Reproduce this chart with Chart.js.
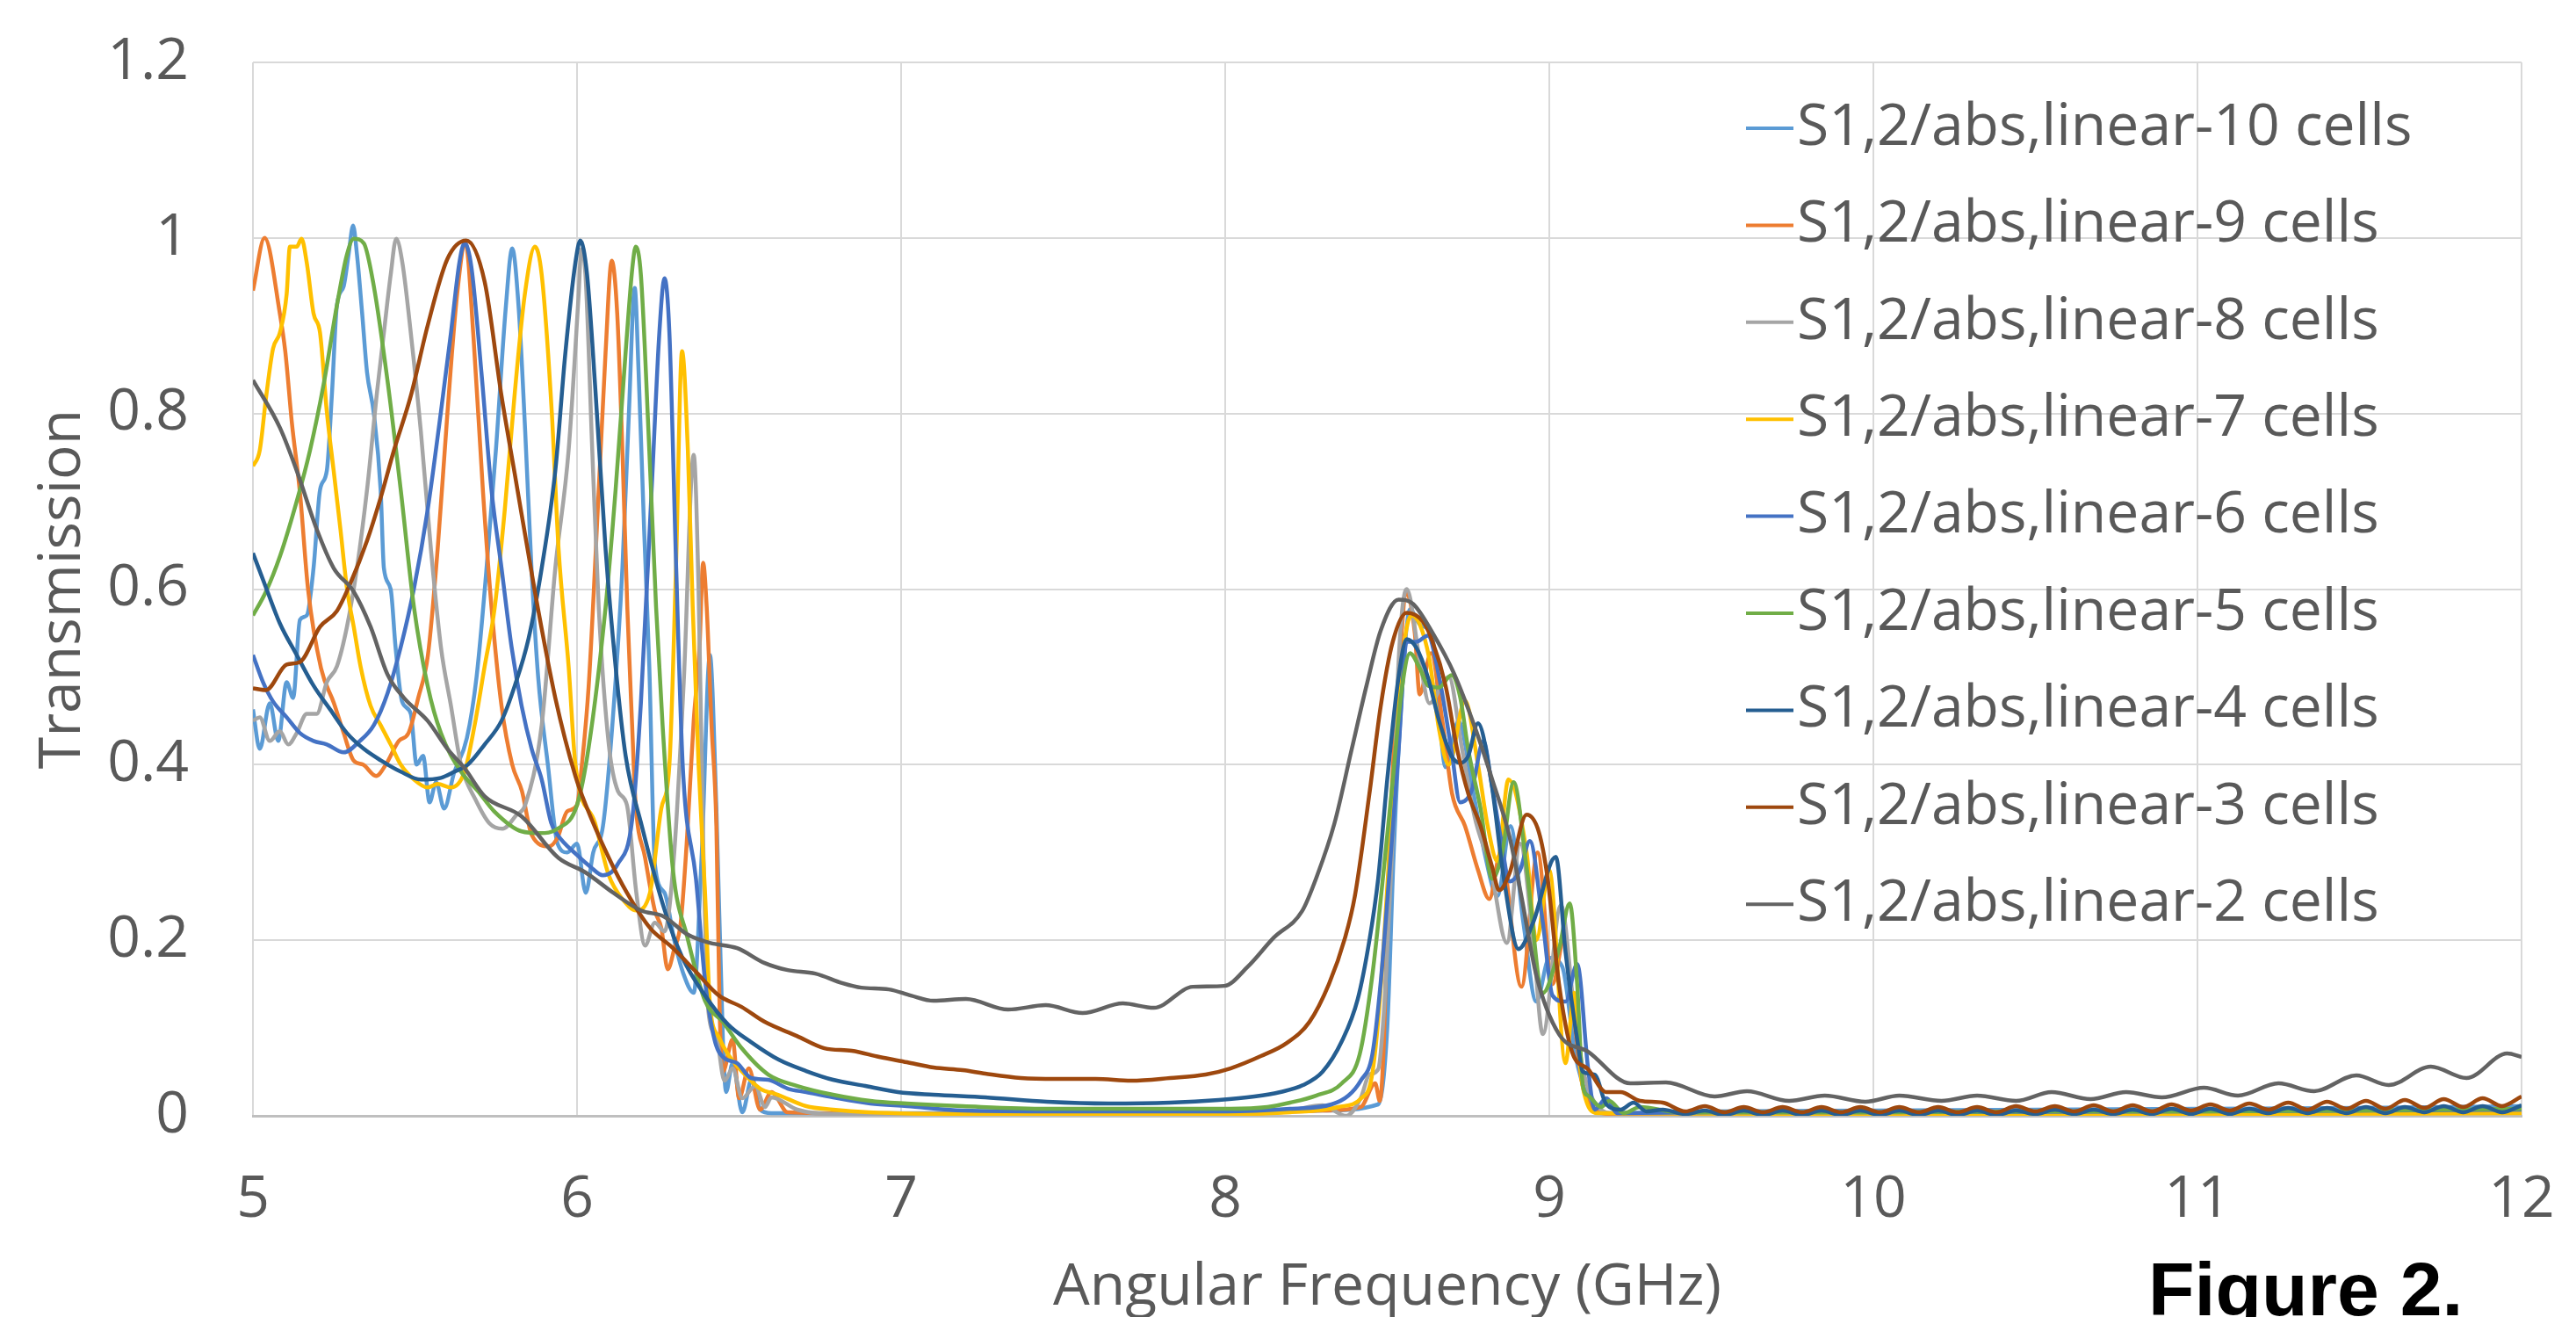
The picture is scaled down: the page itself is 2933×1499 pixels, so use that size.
<!DOCTYPE html>
<html>
<head>
<meta charset="utf-8">
<title>Transmission vs angular frequency</title>
<script src="https://cdn.jsdelivr.net/npm/chart.js@4.4.1/dist/chart.umd.min.js"></script>
<style>
  html, body { margin: 0; padding: 0; background: #ffffff; }
  canvas { display: block; }
</style>
</head>
<body>
<canvas id="chart" width="2933" height="1499"></canvas>
<script>
const seriesLabels = [
    'S1,2/abs,linear-10 cells',
    'S1,2/abs,linear-9 cells',
    'S1,2/abs,linear-8 cells',
    'S1,2/abs,linear-7 cells',
    'S1,2/abs,linear-6 cells',
    'S1,2/abs,linear-5 cells',
    'S1,2/abs,linear-4 cells',
    'S1,2/abs,linear-3 cells',
    'S1,2/abs,linear-2 cells'
];
const seriesColors = ['#5B9BD5', '#ED7D31', '#A5A5A5', '#FFC000', '#4472C4', '#70AD47', '#255E91', '#9E480E', '#636363'];

const xTicks = [5, 6, 7, 8, 9, 10, 11, 12];
const yTicks = [0, 0.2, 0.4, 0.6, 0.8, 1, 1.2];

// [frequency GHz, transmission]
const cells10 = [[5.0,.463],[5.021,.418],[5.052,.47],[5.078,.427],[5.104,.494],[5.124,.476],[5.145,.565],[5.166,.57],[5.187,.624],[5.207,.713],[5.228,.735],[5.244,.824],[5.259,.923],[5.28,.945],[5.295,.981],[5.309,1.014],[5.321,.981],[5.337,.914],[5.352,.847],[5.373,.80],[5.394,.713],[5.404,.624],[5.425,.60],[5.44,.534],[5.46,.472],[5.487,.458],[5.505,.40],[5.525,.41],[5.545,.357],[5.565,.38],[5.59,.35],[5.62,.39],[5.66,.43],[5.69,.50],[5.72,.62],[5.75,.76],[5.78,.92],[5.80,.988],[5.82,.92],[5.84,.78],[5.86,.62],[5.88,.50],[5.91,.40],[5.94,.31],[5.97,.30],[6.0,.31],[6.027,.254],[6.05,.30],[6.08,.33],[6.11,.45],[6.14,.624],[6.16,.80],[6.178,.943],[6.19,.847],[6.207,.668],[6.223,.512],[6.24,.287],[6.27,.254],[6.30,.20],[6.33,.16],[6.36,.14],[6.385,.30],[6.41,.525],[6.43,.35],[6.45,.087],[6.46,.027],[6.48,.06],[6.51,.004],[6.54,.043],[6.565,.007],[6.6,.003],[7.0,.003],[7.5,.003],[8.0,.003],[8.3,.006],[8.472,.013],[8.5,.1],[8.52,.3],[8.545,.48],[8.57,.577],[8.6,.56],[8.64,.543],[8.68,.397],[8.72,.45],[8.76,.38],[8.80,.30],[8.84,.25],[8.88,.33],[8.92,.22],[8.96,.13],[9.0,.18],[9.04,.17],[9.08,.07],[9.12,.02],[9.16,.003],[9.5,.005],[10.0,.006],[10.5,.007],[11.0,.008],[11.5,.009],[12.0,.011]];

const cells9 = [[5.0,.94],[5.036,1.0],[5.083,.914],[5.10,.87],[5.12,.79],[5.145,.71],[5.17,.60],[5.21,.51],[5.25,.47],[5.28,.436],[5.31,.405],[5.34,.40],[5.38,.387],[5.41,.40],[5.45,.427],[5.48,.436],[5.51,.476],[5.54,.525],[5.57,.646],[5.60,.80],[5.63,.936],[5.656,.994],[5.68,.89],[5.71,.71],[5.736,.58],[5.767,.467],[5.80,.40],[5.83,.37],[5.86,.32],[5.914,.307],[5.94,.317],[5.97,.347],[6.0,.354],[6.015,.40],[6.036,.49],[6.067,.713],[6.088,.869],[6.107,.974],[6.124,.914],[6.14,.758],[6.155,.58],[6.17,.445],[6.18,.36],[6.21,.294],[6.24,.234],[6.26,.214],[6.28,.167],[6.30,.19],[6.32,.22],[6.34,.32],[6.36,.45],[6.378,.534],[6.389,.63],[6.40,.58],[6.415,.445],[6.43,.33],[6.44,.12],[6.45,.05],[6.48,.087],[6.50,.02],[6.53,.054],[6.565,.007],[6.60,.027],[6.65,.004],[7.0,.002],[8.0,.002],[8.3,.006],[8.418,.01],[8.463,.037],[8.477,.017],[8.49,.087],[8.508,.32],[8.535,.50],[8.56,.595],[8.585,.55],[8.60,.48],[8.635,.527],[8.67,.45],[8.70,.367],[8.74,.33],[8.78,.28],[8.815,.247],[8.85,.30],[8.914,.147],[8.964,.30],[9.01,.15],[9.045,.20],[9.08,.10],[9.10,.04],[9.13,.01],[9.2,.002],[10.0,.003],[11.0,.004],[12.0,.006]];

const cells8 = [[5.0,.45],[5.021,.454],[5.052,.427],[5.083,.438],[5.109,.423],[5.135,.436],[5.166,.458],[5.197,.458],[5.228,.494],[5.259,.512],[5.29,.557],[5.321,.624],[5.352,.713],[5.383,.825],[5.404,.892],[5.425,.958],[5.442,.999],[5.461,.972],[5.487,.892],[5.518,.78],[5.549,.646],[5.58,.534],[5.611,.467],[5.642,.40],[5.687,.36],[5.73,.333],[5.77,.327],[5.814,.343],[5.84,.354],[5.891,.445],[5.933,.624],[5.974,.758],[6.005,.936],[6.013,.987],[6.026,.958],[6.047,.758],[6.067,.579],[6.098,.423],[6.126,.37],[6.154,.354],[6.183,.254],[6.21,.194],[6.24,.22],[6.27,.21],[6.30,.30],[6.33,.50],[6.36,.753],[6.375,.60],[6.39,.30],[6.405,.12],[6.43,.09],[6.455,.04],[6.48,.054],[6.51,.02],[6.55,.034],[6.58,.01],[6.60,.021],[6.68,.007],[6.78,.002],[7.5,.001],[8.0,.002],[8.2,.006],[8.3,.012],[8.373,.0],[8.418,.02],[8.445,.047],[8.472,.053],[8.49,.12],[8.504,.22],[8.517,.32],[8.535,.517],[8.56,.60],[8.60,.52],[8.63,.47],[8.69,.50],[8.73,.42],[8.77,.34],[8.82,.28],[8.869,.197],[8.91,.31],[8.95,.20],[8.98,.093],[9.036,.24],[9.077,.12],[9.104,.053],[9.15,.01],[9.2,.003],[10.0,.002],[11.0,.003],[12.0,.004]];

const cells7 = [[5.0,.74],[5.021,.758],[5.041,.82],[5.062,.874],[5.083,.892],[5.104,.936],[5.114,.99],[5.135,.99],[5.15,.999],[5.166,.972],[5.187,.914],[5.207,.892],[5.228,.802],[5.249,.735],[5.27,.668],[5.29,.601],[5.311,.557],[5.332,.512],[5.363,.467],[5.394,.445],[5.425,.423],[5.456,.40],[5.497,.383],[5.539,.374],[5.57,.378],[5.611,.374],[5.653,.392],[5.684,.445],[5.715,.512],[5.746,.579],[5.777,.69],[5.808,.824],[5.839,.936],[5.87,.99],[5.891,.958],[5.922,.802],[5.943,.646],[5.974,.512],[5.995,.40],[6.055,.334],[6.098,.274],[6.14,.247],[6.183,.234],[6.225,.254],[6.26,.35],[6.285,.40],[6.305,.62],[6.324,.871],[6.342,.758],[6.357,.579],[6.375,.40],[6.395,.254],[6.41,.127],[6.437,.09],[6.466,.07],[6.51,.05],[6.565,.031],[6.62,.024],[6.707,.011],[6.79,.007],[6.9,.004],[7.2,.002],[8.0,.002],[8.2,.004],[8.35,.01],[8.42,.02],[8.45,.04],[8.47,.10],[8.49,.20],[8.52,.38],[8.55,.53],[8.575,.57],[8.60,.56],[8.63,.52],[8.66,.44],[8.69,.40],[8.74,.473],[8.78,.40],[8.81,.33],[8.84,.29],[8.874,.383],[8.93,.30],[8.96,.20],[9.0,.28],[9.05,.06],[9.077,.14],[9.10,.04],[9.15,.003],[10.0,.002],[11.0,.002],[12.0,.003]];

const cells6 = [[5.0,.525],[5.031,.494],[5.062,.472],[5.104,.454],[5.145,.436],[5.187,.427],[5.228,.423],[5.28,.414],[5.33,.427],[5.373,.445],[5.415,.481],[5.456,.534],[5.497,.601],[5.539,.69],[5.58,.802],[5.611,.892],[5.637,.972],[5.653,.994],[5.674,.967],[5.705,.847],[5.736,.713],[5.767,.624],[5.798,.534],[5.829,.467],[5.86,.418],[5.891,.383],[5.92,.334],[5.94,.32],[6.0,.297],[6.04,.284],[6.08,.274],[6.126,.287],[6.17,.337],[6.197,.47],[6.233,.735],[6.254,.892],[6.27,.954],[6.285,.892],[6.306,.624],[6.326,.40],[6.367,.27],[6.395,.154],[6.424,.087],[6.45,.067],[6.494,.06],[6.537,.043],[6.59,.041],[6.65,.031],[6.707,.027],[6.79,.021],[6.905,.014],[7.018,.011],[7.19,.006],[7.5,.005],[8.0,.005],[8.2,.008],[8.328,.013],[8.38,.023],[8.418,.04],[8.454,.07],[8.48,.153],[8.508,.283],[8.535,.417],[8.56,.54],[8.59,.54],[8.625,.547],[8.66,.50],[8.698,.417],[8.725,.357],[8.76,.37],[8.797,.427],[8.82,.383],[8.85,.317],[8.878,.267],[8.91,.28],[8.94,.313],[8.98,.22],[9.01,.137],[9.05,.13],[9.086,.173],[9.12,.053],[9.14,.007],[9.176,.02],[9.21,.003],[9.5,.004],[10.0,.004],[11.0,.005],[12.0,.007]];

const cells5 = [[5.0,.57],[5.04,.597],[5.083,.637],[5.135,.70],[5.176,.758],[5.218,.833],[5.259,.923],[5.29,.981],[5.311,.999],[5.342,.994],[5.373,.945],[5.415,.838],[5.456,.713],[5.497,.579],[5.539,.49],[5.58,.436],[5.642,.392],[5.694,.37],[5.744,.347],[5.829,.324],[5.885,.322],[5.94,.327],[6.0,.354],[6.036,.42],[6.088,.579],[6.119,.713],[6.15,.87],[6.171,.967],[6.181,.99],[6.197,.958],[6.223,.758],[6.244,.579],[6.264,.445],[6.296,.28],[6.34,.204],[6.395,.131],[6.45,.107],[6.508,.077],[6.59,.047],[6.68,.034],[6.79,.024],[6.905,.017],[7.018,.014],[7.19,.011],[7.45,.008],[7.83,.008],[8.016,.008],[8.13,.01],[8.2,.015],[8.28,.023],[8.36,.037],[8.415,.07],[8.454,.16],[8.49,.283],[8.517,.383],[8.544,.483],[8.57,.527],[8.60,.51],[8.626,.49],[8.66,.488],[8.698,.502],[8.725,.477],[8.75,.417],[8.788,.35],[8.824,.27],[8.855,.30],[8.89,.38],[8.93,.283],[8.98,.14],[9.03,.19],[9.063,.242],[9.086,.15],[9.104,.033],[9.12,.023],[9.16,.01],[9.185,.017],[9.23,.003],[9.28,.01],[9.4,.004],[10.0,.004],[10.5,.005],[11.0,.005],[11.5,.006],[12.0,.008]];

const cells4 = [[5.0,.641],[5.041,.601],[5.083,.561],[5.135,.525],[5.187,.49],[5.238,.463],[5.29,.436],[5.342,.418],[5.394,.405],[5.456,.392],[5.518,.383],[5.58,.385],[5.622,.392],[5.663,.40],[5.715,.423],[5.767,.45],[5.808,.49],[5.85,.543],[5.891,.624],[5.933,.735],[5.964,.869],[5.995,.972],[6.01,.997],[6.031,.958],[6.057,.825],[6.088,.646],[6.119,.512],[6.15,.41],[6.2,.33],[6.268,.237],[6.324,.181],[6.395,.137],[6.466,.104],[6.537,.084],[6.622,.064],[6.707,.051],[6.79,.041],[6.89,.034],[6.99,.027],[7.10,.024],[7.26,.021],[7.45,.016],[7.64,.014],[7.83,.015],[7.98,.018],[8.09,.022],[8.17,.027],[8.24,.035],[8.30,.05],[8.36,.085],[8.409,.133],[8.445,.2],[8.472,.27],[8.50,.383],[8.535,.50],[8.56,.543],[8.59,.533],[8.625,.50],[8.66,.45],[8.698,.41],[8.725,.402],[8.75,.41],[8.78,.447],[8.82,.383],[8.86,.27],[8.905,.19],[8.95,.22],[9.02,.295],[9.05,.187],[9.086,.087],[9.104,.05],[9.14,.047],[9.176,.013],[9.22,.007],[9.26,.015],[9.30,.005],[9.35,.007]];

const cells3 = [[5.0,.487],[5.04,.485],[5.104,.514],[5.145,.517],[5.207,.557],[5.259,.575],[5.30,.606],[5.352,.655],[5.394,.704],[5.435,.758],[5.487,.82],[5.539,.90],[5.60,.976],[5.658,.997],[5.715,.95],[5.767,.82],[5.808,.731],[5.87,.597],[5.933,.476],[5.995,.387],[6.027,.354],[6.098,.294],[6.154,.254],[6.225,.214],[6.296,.191],[6.367,.164],[6.438,.137],[6.508,.124],[6.579,.107],[6.678,.091],[6.763,.077],[6.848,.074],[6.933,.067],[7.018,.061],[7.10,.055],[7.19,.052],[7.26,.048],[7.37,.043],[7.48,.042],[7.60,.042],[7.71,.040],[7.83,.043],[7.94,.047],[8.016,.054],[8.11,.068],[8.19,.083],[8.26,.107],[8.32,.15],[8.37,.203],[8.40,.25],[8.445,.367],[8.48,.467],[8.517,.54],[8.56,.573],[8.61,.563],[8.64,.54],[8.68,.49],[8.716,.417],[8.75,.367],[8.788,.33],[8.824,.283],[8.845,.257],[8.878,.277],[8.93,.343],[8.968,.323],[8.995,.27],[9.03,.15],[9.07,.073],[9.12,.053],[9.176,.027],[9.22,.027],[9.28,.017],[9.35,.015]];

const cells2 = [[5.0,.838],[5.083,.784],[5.135,.735],[5.197,.668],[5.249,.624],[5.311,.597],[5.363,.557],[5.415,.503],[5.466,.476],[5.539,.45],[5.60,.418],[5.653,.396],[5.715,.364],[5.829,.341],[5.942,.294],[6.027,.277],[6.112,.254],[6.197,.234],[6.268,.227],[6.339,.207],[6.41,.197],[6.494,.191],[6.579,.174],[6.65,.166],[6.735,.162],[6.82,.151],[6.877,.146],[6.962,.144],[7.03,.137],[7.10,.131],[7.2,.133],[7.33,.121],[7.446,.126],[7.56,.117],[7.684,.128],[7.78,.123],[7.90,.147],[7.997,.148],[8.07,.17],[8.15,.203],[8.237,.233],[8.283,.273],[8.337,.333],[8.39,.417],[8.436,.49],[8.48,.553],[8.535,.588],[8.58,.583],[8.64,.55],[8.707,.503],[8.77,.443],[8.824,.383],[8.878,.317],[8.914,.25],[8.96,.16],[9.03,.093],[9.12,.073],[9.25,.037],[9.36,.038],[9.51,.022],[9.61,.028],[9.74,.017],[9.85,.023],[9.975,.016],[10.08,.023],[10.21,.017],[10.32,.023],[10.44,.017],[10.55,.027],[10.67,.019],[10.78,.027],[10.89,.021],[11.02,.032],[11.125,.023],[11.25,.037],[11.36,.028],[11.49,.046],[11.59,.035],[11.72,.056],[11.83,.043],[11.956,.071],[12.0,.067]];

// ripple above the upper band for the 3- and 4-cell curves
const tailX = [9.42,9.48,9.54,9.60,9.66,9.72,9.78,9.84,9.90,9.96,10.02,10.08,10.14,10.20,10.26,10.32,10.38,10.44,10.50,10.56,10.62,10.68,10.74,10.80,10.86,10.92,10.98,11.04,11.10,11.16,11.22,11.28,11.34,11.40,11.46,11.52,11.58,11.64,11.70,11.76,11.82,11.88,11.94,12.00];
const tail3 = [.005,.011,.004,.010,.004,.010,.004,.010,.004,.010,.004,.010,.004,.010,.004,.010,.004,.011,.005,.011,.005,.012,.005,.012,.005,.013,.006,.013,.006,.014,.007,.015,.007,.016,.008,.017,.008,.018,.009,.019,.010,.020,.011,.022];
const tail4 = [.002,.006,.001,.006,.001,.006,.001,.006,.001,.006,.001,.006,.001,.006,.001,.006,.001,.006,.002,.007,.002,.007,.002,.007,.002,.008,.002,.008,.002,.008,.003,.009,.003,.009,.003,.010,.003,.010,.004,.011,.004,.011,.004,.012];

const seriesData = [
    cells10, cells9, cells8, cells7, cells6, cells5,
    cells4.concat(tailX.map((x, i) => [x, tail4[i]])),
    cells3.concat(tailX.map((x, i) => [x, tail3[i]])),
    cells2
];

const textColor = '#595959';
const gridColor = '#D9D9D9';

// legend sits inside the plot, top right, plus the figure caption
const overlay = {
    id: 'overlay',
    afterDraw(chart) {
        const ctx = chart.ctx;
        ctx.save();
        ctx.font = '66px "Open Sans"';
        ctx.textBaseline = 'middle';
        chart.data.datasets.forEach((ds, i) => {
            const y = 146 + i * 110.4;
            ctx.strokeStyle = ds.borderColor;
            ctx.lineWidth = 4;
            ctx.beginPath();
            ctx.moveTo(1988, y);
            ctx.lineTo(2042, y);
            ctx.stroke();
            ctx.fillStyle = textColor;
            ctx.fillText(ds.label, 2046, y);
        });
        ctx.font = 'bold 86px "Liberation Sans"';
        ctx.fillStyle = '#000000';
        ctx.textBaseline = 'alphabetic';
        ctx.fillText('Figure 2.', 2446, 1497);
        ctx.restore();
    }
};

// keep the tick-label overhang from pushing the plot area inwards
function noOverhang(s) {
    s.paddingTop = 0;
    s.paddingBottom = 0;
    s.paddingLeft = 0;
    s.paddingRight = 0;
}

function makeChart() {
    new Chart(document.getElementById('chart'), {
        type: 'line',
        data: {
            datasets: seriesData.map((pts, i) => ({
                label: seriesLabels[i],
                data: pts.map(p => ({ x: p[0], y: p[1] })),
                borderColor: seriesColors[i],
                borderWidth: 4.5,
                pointRadius: 0,
                fill: false,
                cubicInterpolationMode: 'monotone',
                order: seriesData.length - i
            }))
        },
        options: {
            responsive: false,
            animation: false,
            devicePixelRatio: 1,
            layout: { padding: { top: 71, right: 62, left: 0, bottom: 0 } },
            plugins: {
                legend: { display: false },
                tooltip: { enabled: false }
            },
            scales: {
                x: {
                    type: 'linear',
                    min: 5,
                    max: 12,
                    afterBuildTicks: s => { s.ticks = xTicks.map(v => ({ value: v })); },
                    afterFit: s => { s.height = 229; noOverhang(s); },
                    grid: { color: gridColor, lineWidth: 2, drawTicks: false },
                    border: { color: '#BFBFBF', width: 3 },
                    ticks: {
                        color: textColor,
                        font: { family: 'Open Sans', size: 66 },
                        padding: 57,
                        maxRotation: 0,
                        autoSkip: false,
                        callback: v => String(v)
                    },
                    title: {
                        display: true,
                        text: 'Angular Frequency (GHz)',
                        color: textColor,
                        font: { family: 'Open Sans', size: 66, lineHeight: 1.0 },
                        padding: { top: 0, bottom: 0 }
                    }
                },
                y: {
                    min: 0,
                    max: 1.2,
                    afterBuildTicks: s => { s.ticks = yTicks.map(v => ({ value: v })); },
                    afterFit: s => { s.width = 288; noOverhang(s); },
                    grid: { color: gridColor, lineWidth: 2, drawTicks: false },
                    border: { display: false },
                    ticks: {
                        color: textColor,
                        font: { family: 'Open Sans', size: 66 },
                        padding: 73,
                        callback: v => String(Number(v.toFixed(2)))
                    },
                    title: {
                        display: true,
                        text: 'Transmission',
                        color: textColor,
                        font: { family: 'Open Sans', size: 66, lineHeight: 1.2 },
                        padding: { top: 33, bottom: 0 }
                    }
                }
            }
        },
        plugins: [overlay]
    });
}

Promise.all([
    document.fonts.load('66px "Open Sans"'),
    document.fonts.load('bold 86px "Liberation Sans"')
]).then(makeChart, makeChart);
</script>
</body>
</html>
